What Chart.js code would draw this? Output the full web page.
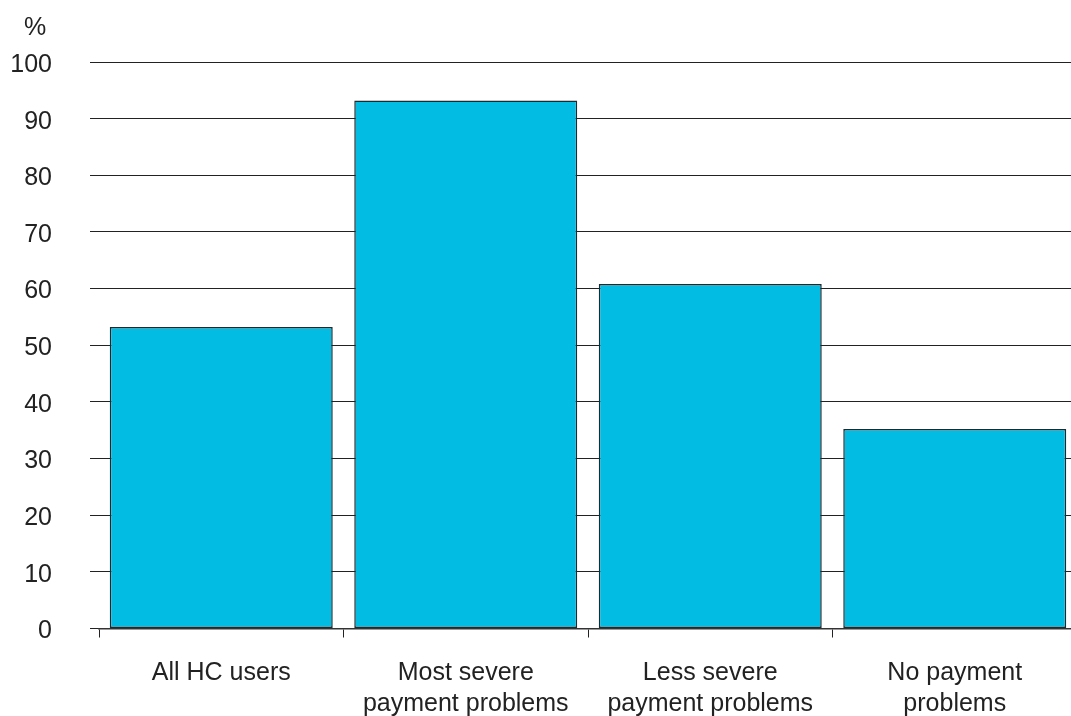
<!DOCTYPE html>
<html>
<head>
<meta charset="utf-8">
<script src="https://cdn.jsdelivr.net/npm/chart.js@4"></script>
<style>
  html, body { margin: 0; padding: 0; background: #fff; overflow: hidden; }
  #wrap { width: 1085px; height: 716px; }
</style>
</head>
<body>
<div id="wrap"><canvas id="grafico"></canvas></div>
<script>
const categorias = [["All HC users"], ["Most severe", "payment problems"], ["Less severe", "payment problems"], ["No payment", "problems"]];
const valores = [53.2, 93.2, 60.8, 35.2];
const ticksY = [0, 10, 20, 30, 40, 50, 60, 70, 80, 90, 100];

const fonte = { family: "'Helvetica Neue', 'Liberation Sans', Arial, sans-serif", size: 25 };

// desenha o "%" acima dos rótulos do eixo y
const unidade = {
    id: 'unidade',
    afterDraw(chart) {
        const ctx = chart.ctx;
        const y = chart.scales.y;
        ctx.save();
        ctx.font = `${fonte.size}px ${fonte.family}`;
        ctx.fillStyle = '#222';
        ctx.textAlign = 'center';
        ctx.textBaseline = 'middle';
        ctx.fillText('%', 35, y.top - 34);
        ctx.restore();
    }
};

new Chart(document.getElementById('grafico'), {
    type: 'bar',
    data: {
        labels: categorias,
        datasets: [{
            data: valores,
            backgroundColor: '#02bce3',
            borderColor: '#1f2a2e',
            borderWidth: 1.5,
            borderSkipped: false,
            categoryPercentage: 1,
            barPercentage: 0.912
        }]
    },
    options: {
        responsive: true,
        maintainAspectRatio: false,
        animation: false,
        layout: { padding: { top: 62, left: 10, right: 8, bottom: 0 } },
        plugins: { legend: { display: false }, tooltip: { enabled: false } },
        scales: {
            x: {
                afterFit: (escala) => { escala.height = 87.5; },
                grid: { drawOnChartArea: false, drawTicks: true, tickLength: 9, color: '#222', offset: true },
                border: { display: true, color: '#333', width: 1.5 },
                ticks: { color: '#222', font: { ...fonte, lineHeight: 1.24 }, padding: 20, maxRotation: 0, autoSkip: false }
            },
            y: {
                min: 0,
                max: 100,
                afterFit: (escala) => { escala.width = 89; },
                afterBuildTicks: (escala) => { escala.ticks = ticksY.map(v => ({ value: v })); },
                grid: { color: '#222', lineWidth: 1, drawTicks: true, tickLength: 9 },
                border: { display: false },
                ticks: { color: '#222', font: fonte, padding: 38, labelOffset: 3 }
            }
        }
    },
    plugins: [unidade]
});
</script>
</body>
</html>
